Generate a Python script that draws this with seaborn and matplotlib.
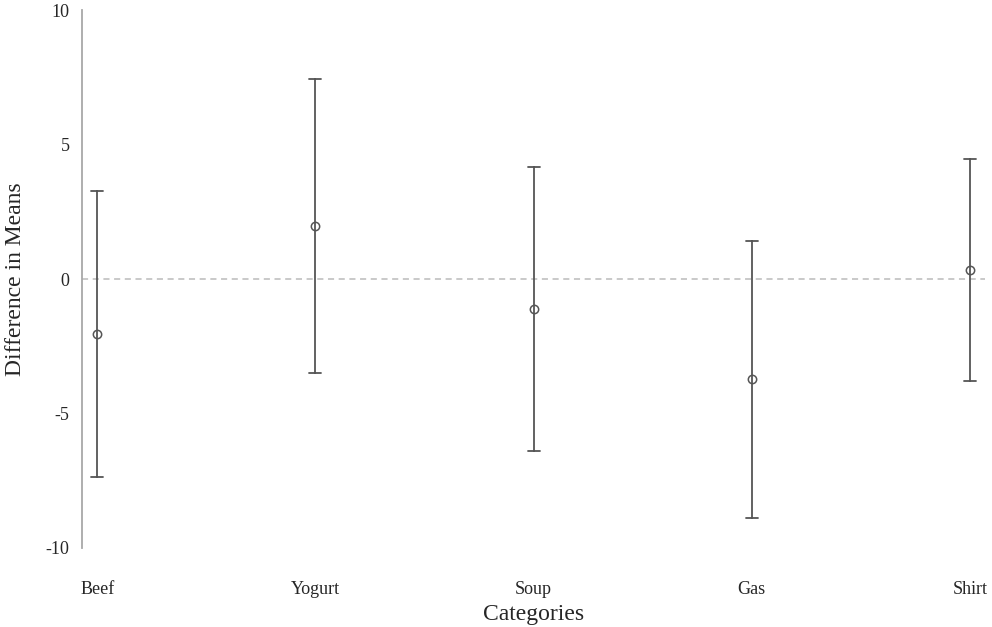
import matplotlib
matplotlib.use("Agg")
import matplotlib.pyplot as plt
import seaborn as sns
import pandas as pd

# values
categories = ["Beef", "Yogurt", "Soup", "Gas", "Shirt"]
diff_means = [-2.04, 1.97, -1.12, -3.72, 0.33]
half_width = [5.33, 5.46, 5.29, 5.15, 4.13]
y_ticks = [-10, -5, 0, 5, 10]

# two rows per category (lower and upper bound); mean gives the centre,
# min/max give the interval
rows = []
for cat, m, h in zip(categories, diff_means, half_width):
    rows.append({"Categories": cat, "Difference in Means": m - h})
    rows.append({"Categories": cat, "Difference in Means": m + h})
df = pd.DataFrame(rows)

sns.set_style("white")
plt.rcParams["font.family"] = ["Liberation Serif", "DejaVu Serif"]

fig = plt.figure(figsize=(9.92, 6.27), dpi=100)
ax = fig.add_axes([0.0827, 0.126, 0.9103, 0.858])

ax.axhline(0, color="#bbbbbb", linestyle="--", linewidth=1.1, dashes=(4, 3), zorder=0)

sns.pointplot(data=df, x="Categories", y="Difference in Means",
              order=categories, estimator="mean",
              errorbar=lambda v: (v.min(), v.max()),
              color="#555555", linestyle="none", marker="o",
              markersize=6, markerfacecolor="none", markeredgewidth=1.1,
              capsize=0.055, err_kws={"linewidth": 1.3}, ax=ax)

ax.set_xlim(-0.07, 4.07)
ax.set_ylim(-10, 10)
ax.set_yticks(y_ticks)
ax.set_yticklabels([str(t) for t in y_ticks])

for side in ["top", "right", "bottom"]:
    ax.spines[side].set_visible(False)
ax.spines["left"].set_color("#a8a8a8")
ax.spines["left"].set_linewidth(1.3)

ax.tick_params(axis="y", length=0, pad=9, labelsize=13)
ax.tick_params(axis="x", length=0, pad=24, labelsize=13)
ax.set_xlabel("Categories", fontsize=17, labelpad=4)
ax.set_ylabel("Difference in Means", fontsize=17, labelpad=14)

fig.savefig("out.png", dpi=100)
